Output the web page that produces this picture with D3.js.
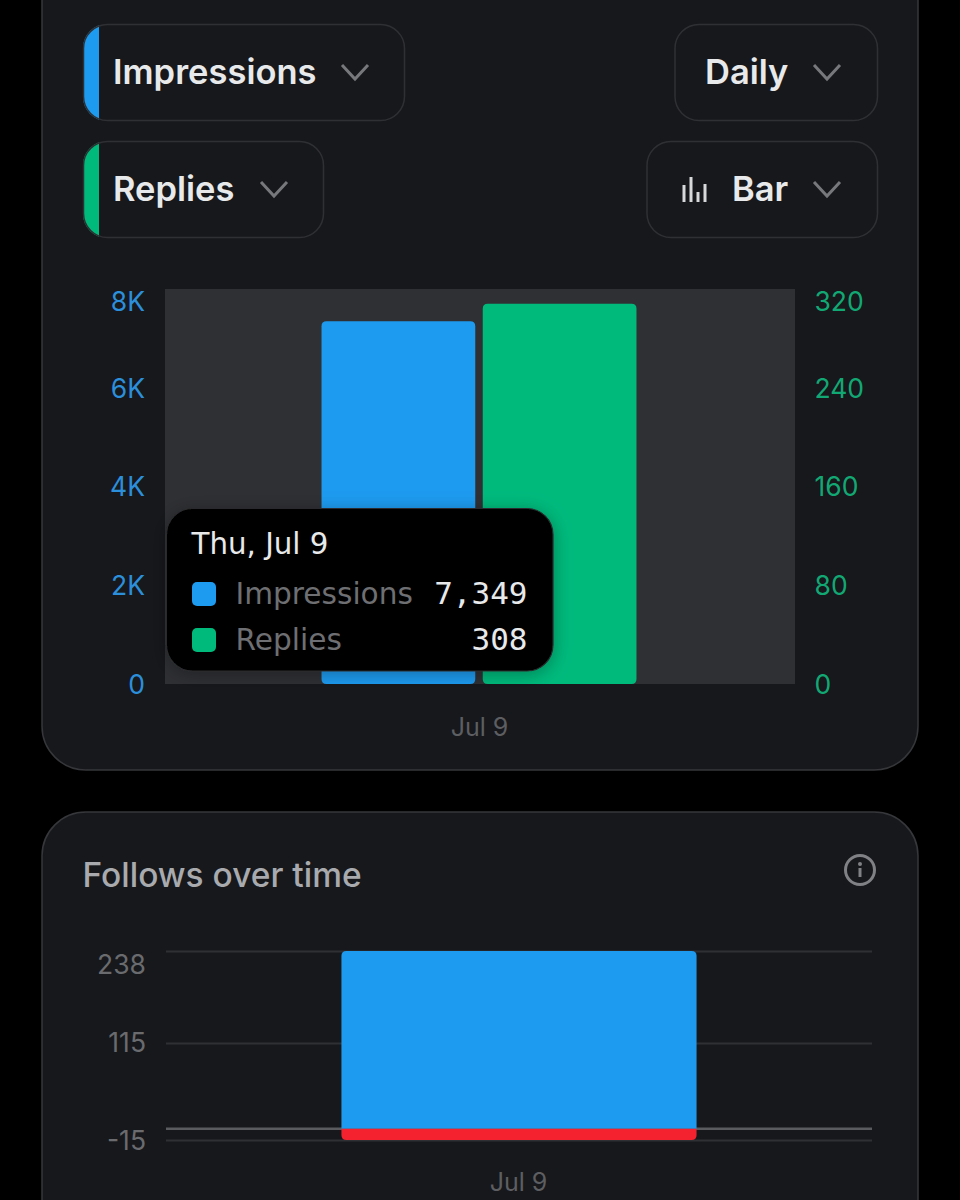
<!DOCTYPE html>
<html><head><meta charset="utf-8">
<script src="https://cdn.jsdelivr.net/npm/d3@7/dist/d3.min.js"></script>
<style>html,body{margin:0;background:#000}svg{display:block}text{font-family:Inter,"Noto Sans",sans-serif}</style>
</head><body><svg id="c" width="960" height="1200"></svg>
<script>
// Data
const metricNames = ["Impressions", "Replies"];
const dates = ["Jul 9"];
const impressions = [7349];
const replies = [308];
const leftTicks = [0, 2000, 4000, 6000, 8000];
const rightTicks = [0, 80, 160, 240, 320];
const followsPos = [238];
const followsNeg = [-15];
const followsTicks = [-15, 115, 238];
const tooltipDate = "Thu, Jul 9";

const BLUE = "#1d9bf0", GREEN = "#00ba7c", RED = "#f4212e";
const svg = d3.select("#c");
const defs = svg.append("defs");
const shadow = defs.append("filter").attr("id","ts").attr("x","-20%").attr("y","-20%").attr("width","140%").attr("height","140%");
shadow.append("feDropShadow").attr("dx",0).attr("dy",3).attr("stdDeviation",9).attr("flood-color","#000").attr("flood-opacity",.3);

function card(y,h){svg.append("rect").attr("x",42).attr("y",y).attr("width",876).attr("height",h).attr("rx",44)
  .attr("fill","#17181c").attr("stroke","#36373a").attr("stroke-width",1.5);}
card(-60,830); card(812,460);

function chevron(cx,cy){svg.append("path").attr("d",d3.line()([[cx-13,cy-7],[cx,cy+7],[cx+13,cy-7]]))
  .attr("fill","none").attr("stroke","#77787b").attr("stroke-width",3);}
function pill(x,y,w,label,tx,cx,accent,id){
  const g=svg.append("g");
  if(accent){
    defs.append("clipPath").attr("id",id).append("rect").attr("x",x).attr("y",y).attr("width",w).attr("height",97).attr("rx",24);
    g.append("rect").attr("x",x).attr("y",y).attr("width",16).attr("height",97).attr("fill",accent).attr("clip-path",`url(#${id})`);
  }
  g.append("rect").attr("x",x+.5).attr("y",y+.5).attr("width",w).attr("height",96).attr("rx",24)
    .attr("fill","none").attr("stroke","#2f3033").attr("stroke-width",1.5);
  g.append("text").attr("x",tx).attr("y",y+60).attr("fill","#e7e9ea").attr("font-size",34.5).attr("font-weight",600).text(label);
  chevron(cx,y+48);
}
pill(83,24,321,metricNames[0],113,355,BLUE,"p1");
pill(83,141,240,metricNames[1],113,274,GREEN,"p2");
pill(674.5,24,202.5,"Daily",705,827,null);
pill(646.5,141,230.5,"Bar",732,827,null);
// bar-chart icon
svg.append("g").attr("fill","#d6d8da").selectAll("rect").data([[682.5,17],[689.5,25],[696.5,10],[703.5,18]])
  .join("rect").attr("x",d=>d[0]).attr("y",d=>202-d[1]).attr("width",3).attr("height",d=>d[1]);

// Top chart
const top0={l:165,r:795,t:289,b:684};
svg.append("rect").attr("x",top0.l).attr("y",top0.t).attr("width",top0.r-top0.l).attr("height",top0.b-top0.t).attr("fill","#2f3034");
const x0=d3.scaleBand().domain(dates).range([top0.l,top0.r]).paddingInner(0).paddingOuter(0);
const y1=d3.scaleLinear().domain([0,8000]).range([top0.b,top0.t]);
const y2=d3.scaleLinear().domain([0,320]).range([top0.b,top0.t]);
const barW=x0.bandwidth()*0.244, gap=7.5;
function roundBar(x,w,yA,yB,r){const p=d3.path();p.moveTo(x+r,yA);p.lineTo(x+w-r,yA);p.quadraticCurveTo(x+w,yA,x+w,yA+r);p.lineTo(x+w,yB-r);p.quadraticCurveTo(x+w,yB,x+w-r,yB);p.lineTo(x+r,yB);p.quadraticCurveTo(x,yB,x,yB-r);p.lineTo(x,yA+r);p.quadraticCurveTo(x,yA,x+r,yA);p.closePath();return p.toString();}
const mid=d=>x0(d)+x0.bandwidth()/2-1;
svg.append("g").selectAll("path").data(impressions).join("path").attr("fill",BLUE)
  .attr("d",(d,i)=>roundBar(mid(dates[i])-gap/2-barW,barW,y1(d),y1(0),5));
svg.append("g").selectAll("path").data(replies).join("path").attr("fill",GREEN)
  .attr("d",(d,i)=>roundBar(mid(dates[i])+gap/2,barW,y2(d),y2(0),5));

function styleAxis(g,color,size,shift,topVal){
  g.select(".domain").remove();
  g.selectAll("text").attr("fill",color).attr("font-size",size).attr("font-weight",400).style("font-family","Inter").attr("y",0.8);
  g.selectAll(".tick").filter(d=>d===topVal).select("text").attr("y",shift);
}
const fmtK=d=>d===0?"0":(d/1000)+"K";
const gl=svg.append("g").attr("transform",`translate(145,0)`).call(d3.axisLeft(y1).tickValues(leftTicks).tickFormat(fmtK).tickSize(0).tickPadding(0));
styleAxis(gl,"#2b8fdb",26.5,13.5,8000);
const gr=svg.append("g").attr("transform",`translate(814.5,0)`).call(d3.axisRight(y2).tickValues(rightTicks).tickSize(0).tickPadding(0));
styleAxis(gr,"#12a874",26.5,13.5,320);
const gx=svg.append("g").attr("transform",`translate(-0.5,718)`).call(d3.axisBottom(x0).tickSize(0).tickPadding(0));
gx.select(".domain").remove();
gx.selectAll("text").attr("fill","#5d5e61").attr("font-size",25).style("font-family","Inter");

// Tooltip
const tt=svg.append("g");
tt.append("rect").attr("x",166.5).attr("y",508.5).attr("width",386.5).attr("height",162.5).attr("rx",26)
  .attr("fill","#000").attr("stroke","#2a2b2d").attr("stroke-width",1.2).attr("filter","url(#ts)");
const TT="'DejaVu Sans'";
tt.append("text").attr("x",191.5).attr("y",554).attr("fill","#e7e9ea").attr("font-size",29.3).style("font-family",TT).text(tooltipDate);
const rows=[[metricNames[0],BLUE,impressions[0]],[metricNames[1],GREEN,replies[0]]];
rows.forEach((r,i)=>{
  const yy=582+i*46;
  tt.append("rect").attr("x",192).attr("y",yy).attr("width",24).attr("height",24).attr("rx",5).attr("fill",r[1]);
  tt.append("text").attr("x",235.5).attr("y",yy+22).attr("fill","#6e6f72").attr("font-size",29.6).style("font-family",TT).text(r[0]);
  tt.append("text").attr("x",527.5).attr("y",yy+21.5).attr("text-anchor","end").attr("fill","#e7e9ea").attr("font-size",31).style("font-family","'DejaVu Sans Mono'").text(d3.format(",")(r[2]));
});

// Follows card
svg.append("text").attr("x",82.5).attr("y",887).attr("fill","#a8aaae").attr("font-size",33.5).attr("font-weight",500).text("Follows over time");
svg.append("circle").attr("cx",860).attr("cy",870).attr("r",14.5).attr("fill","none").attr("stroke","#808184").attr("stroke-width",3);
svg.append("circle").attr("cx",860).attr("cy",864).attr("r",2).attr("fill","#808184");
svg.append("line").attr("x1",860).attr("x2",860).attr("y1",868).attr("y2",877).attr("stroke","#808184").attr("stroke-width",3);

const bot={l:166,r:872};
const yf=d3.scaleLinear().domain([-15,238]).range([1140,951]);
const xf=d3.scaleBand().domain(dates).range([bot.l,bot.r]).paddingInner(0).paddingOuter(0);
const gf=svg.append("g").attr("transform",`translate(${bot.l},0)`).call(d3.axisRight(yf).tickValues(followsTicks).tickSize(bot.r-bot.l).tickFormat(()=>""));
gf.select(".domain").remove();
gf.selectAll("line").attr("stroke","#2f3033").attr("stroke-width",2);
const gfl=svg.append("g").attr("transform","translate(146,0)").call(d3.axisLeft(yf).tickValues(followsTicks).tickSize(0).tickPadding(0).tickFormat(d=>d<0?"-"+Math.abs(d):d));
gfl.select(".domain").remove();
gfl.selectAll("text").attr("fill","#6a6b6e").attr("font-size",26.5).style("font-family","Inter").attr("y",0.6);
gfl.selectAll(".tick").filter(d=>d===238).select("text").attr("y",13.6);
svg.append("line").attr("x1",bot.l).attr("x2",bot.r).attr("y1",yf(0)).attr("y2",yf(0)).attr("stroke","#5a5b5e").attr("stroke-width",2.5);
const fw=xf.bandwidth()*0.503, fmid=d=>xf(d)+xf.bandwidth()/2;
svg.append("g").selectAll("path").data(followsPos).join("path").attr("fill",BLUE)
  .attr("d",(d,i)=>{const x=fmid(dates[i])-fw/2,r=5,a=yf(d),b=yf(0);return `M${x},${b}V${a+r}Q${x},${a} ${x+r},${a}H${x+fw-r}Q${x+fw},${a} ${x+fw},${a+r}V${b}Z`;});
svg.append("g").selectAll("path").data(followsNeg).join("path").attr("fill",RED)
  .attr("d",(d,i)=>{const x=fmid(dates[i])-fw/2,r=5,a=yf(0),b=yf(d);return `M${x},${a}H${x+fw}V${b-r}Q${x+fw},${b} ${x+fw-r},${b}H${x+r}Q${x},${b} ${x},${b-r}Z`;});
const gfx=svg.append("g").attr("transform","translate(-0.5,1173)").call(d3.axisBottom(xf).tickSize(0).tickPadding(0));
gfx.select(".domain").remove();
gfx.selectAll("text").attr("fill","#5d5e61").attr("font-size",25).style("font-family","Inter");
</script></body></html>
